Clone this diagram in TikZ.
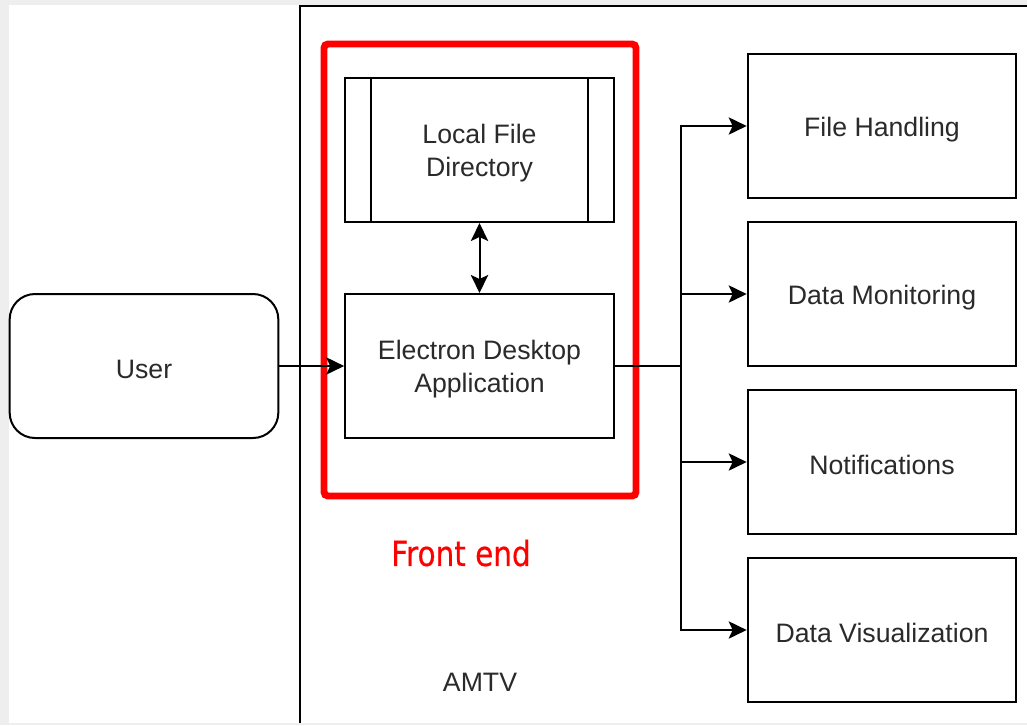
\documentclass[tikz,border=0pt]{standalone}
\usepackage{fontspec}
\setmainfont{Liberation Sans}
\newfontfamily\fefont{DejaVu Sans}[FakeStretch=0.85,FakeBold=0.5]
\usetikzlibrary{arrows.meta,calc}
\definecolor{bggray}{HTML}{EEEEEE}
\definecolor{txt}{HTML}{2A2A2A}
\newcommand{\lowline}[1]{\raisebox{-2.4pt}[\height][\depth]{#1}}
\tikzset{
  box/.style={draw=black, line width=1.5pt, fill=white, minimum width=201.5pt, minimum height=108pt, inner sep=0pt, align=center, text=txt, font=\fontsize{20}{24.75}\selectfont},
  tip/.tip={Stealth[length=13.5pt,width=13pt,inset=3pt]},
  arr/.style={line width=1.5pt, -tip},
  arrtwo/.style={line width=1.5pt, tip-tip},
  lbl/.style={text=txt, font=\fontsize{20}{24}\selectfont}
}
\begin{document}
\begin{tikzpicture}[x=0.75pt,y=-0.75pt]
\useasboundingbox (0,0) rectangle (1027,725);
\fill[bggray] (0,0) rectangle (1027,725);
\fill[white] (9,5) rectangle (1027,723);
% AMTV container (partly out of frame)
\draw[line width=1.5pt] (300,723) -- (300,6) -- (1027,6);
\node[lbl] (amtv) at (480,682) {AMTV};
% Front end red frame
\node[draw=red, line width=5.2pt, rounded corners=3pt, minimum width=234pt, minimum height=339pt, inner sep=0pt] (fe) at (480,270) {};
\node[text=red, inner sep=0pt, font=\fefont\fontsize{26}{30}\selectfont] (felbl) at (461,553) {Front end};
% Local File Directory
\node[box] (lfd) at (479.5,150) {\lowline{Local File}\\\lowline{Directory}};
\draw[line width=1.5pt] ($(lfd.north west)+(27,0)$) -- ($(lfd.south west)+(27,0)$);
\draw[line width=1.5pt] ($(lfd.north east)+(-27,0)$) -- ($(lfd.south east)+(-27,0)$);
% Electron Desktop Application
\node[box] (eda) at (479.5,366) {\lowline{Electron Desktop}\\\lowline{Application}};
% User
\node[box, rounded corners=19pt] (user) at (144,366) {\lowline{User}};
% Right boxes
\node[box] (fh) at (882,126) {\lowline{File Handling}};
\node[box] (dm) at (882,294) {\lowline{Data Monitoring}};
\node[box] (nt) at (882,462) {\lowline{Notifications}};
\node[box] (dv) at (882,630) {\lowline{Data Visualization}};
% Connectors
\draw[arrtwo] (lfd.south) -- (eda.north);
\draw[arr] (user.east) -- (eda.west);
\coordinate (bus) at (681,366);
\draw[line width=1.5pt] (eda.east) -- (bus);
\draw[arr] (bus) |- (fh.west);
\draw[arr] (bus) |- (dm.west);
\draw[arr] (bus) |- (nt.west);
\draw[arr] (bus) |- (dv.west);
\end{tikzpicture}
\end{document}
